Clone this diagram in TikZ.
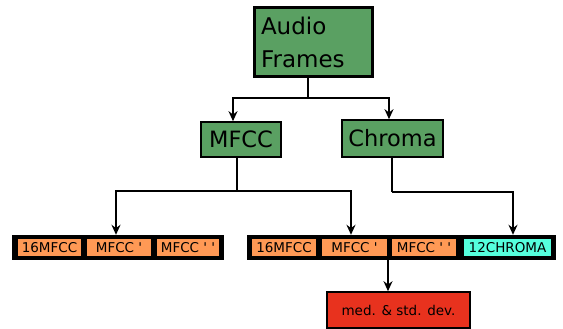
\documentclass[tikz,border=0pt]{standalone}
\usepackage{fontspec}
\setmainfont{DejaVu Sans}[Ligatures=TeXOff]
\usetikzlibrary{arrows.meta}
\definecolor{boxgreen}{RGB}{90,160,98}
\definecolor{cellorange}{RGB}{255,153,85}
\definecolor{cellcyan}{RGB}{85,255,221}
\definecolor{boxred}{RGB}{232,50,30}
\tikzset{
  greenbox/.style={draw=black, fill=boxgreen, line width=1.6pt, inner sep=0pt},
  rowbox/.style={fill=black, draw=none, inner sep=0pt, minimum height=25pt},
  cell/.style={fill=cellorange, draw=none, inner sep=0pt, minimum height=17pt, font=\fontsize{13.5}{16}\selectfont},
  conn/.style={draw=black, line width=1.8pt},
  arr/.style={conn, -{Stealth[length=10pt,width=9pt]}},
}
\begin{document}
\begin{tikzpicture}[x=1pt,y=-1pt]
\useasboundingbox (0,0) rectangle (563,329);
% top box
\node[greenbox, line width=3pt, minimum width=118pt, minimum height=69pt,
      text width=104pt, align=left, font=\fontsize{23}{33}\selectfont] (audio) at (313,42.5) {Audio\\Frames};
\node[greenbox, minimum width=80pt, minimum height=35pt, font=\fontsize{22.5}{26}\selectfont] (mfcc) at (241,139.5) {MFCC};
\node[greenbox, minimum width=101pt, minimum height=37pt, font=\fontsize{22.5}{26}\selectfont] (chroma) at (392.5,138.5) {Chroma};
% rows
\node[rowbox, minimum width=212pt] (leftrow) at (118,247.5) {};
\node[cell, minimum width=63pt] (l1) at (49.5,247.5) {16MFCC};
\node[cell, minimum width=64pt] (l2) at (119,247.5) {MFCC '};
\node[cell, minimum width=62pt] (l3) at (188,247.5) {MFCC ' '};
\node[rowbox, minimum width=309pt] (rightrow) at (401.5,247.5) {};
\node[cell, minimum width=64pt] (r1) at (284,247.5) {16MFCC};
\node[cell, minimum width=65pt] (r2) at (354.5,247.5) {MFCC '};
\node[cell, minimum width=64pt] (r3) at (424,247.5) {MFCC ' '};
\node[cell, fill=cellcyan, minimum width=87pt] (r4) at (507.5,247.5) {12CHROMA};
% result
\node[draw=black, fill=boxred, line width=1.6pt, minimum width=143pt, minimum height=36pt,
      inner sep=0pt, font=\fontsize{13.5}{16}\selectfont] (med) at (398.5,310) {med. \& std. dev.};
% connectors
\coordinate (j1) at (308,98);
\coordinate (j2) at (237,191);
\coordinate (j3) at (392,192);
\draw[conn] (audio.south -| j1) -- (j1);
\draw[arr] (j1) -| ([xshift=-8pt]mfcc.north);
\draw[arr] (j1) -| ([xshift=-3.5pt]chroma.north);
\draw[conn] (mfcc.south -| j2) -- (j2);
\draw[arr] (j2) -| ([xshift=-2pt]leftrow.north);
\draw[arr] (j2) -| ([xshift=-50.5pt]rightrow.north);
\draw[conn] (chroma.south -| j3) -- (j3);
\draw[arr] (j3) -| ([xshift=111.5pt]rightrow.north);
\draw[arr] ([xshift=-13.5pt]rightrow.south) -- (med.north -| {388,0});
\end{tikzpicture}
\end{document}
